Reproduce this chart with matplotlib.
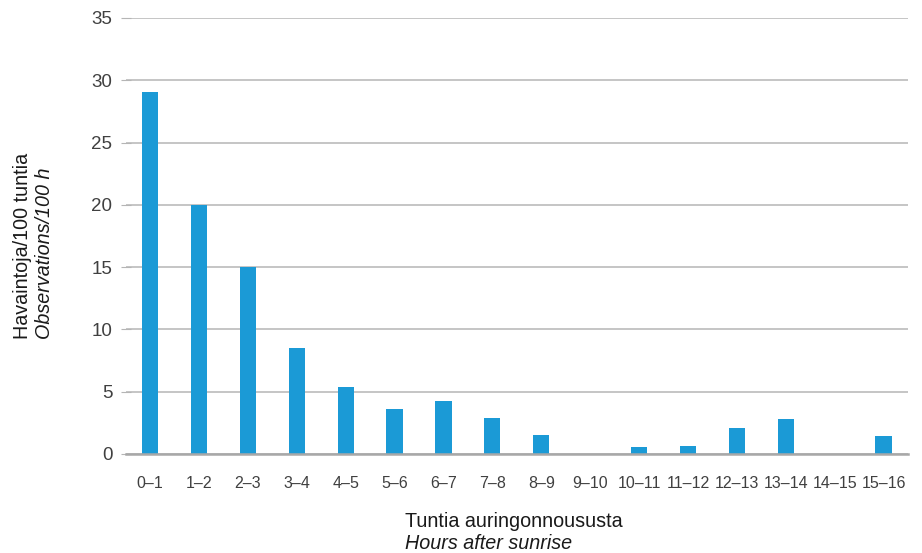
import matplotlib
matplotlib.use("Agg")
import matplotlib.pyplot as plt

plt.rcParams['font.family'] = ['Liberation Sans', 'DejaVu Sans']

categories = ["0–1", "1–2", "2–3", "3–4", "4–5", "5–6", "6–7", "7–8", "8–9",
              "9–10", "10–11", "11–12", "12–13", "13–14", "14–15", "15–16"]
values = [29.05, 20.0, 15.0, 8.5, 5.4, 3.6, 4.25, 2.9, 1.5,
          0.0, 0.55, 0.65, 2.1, 2.8, 0.0, 1.45]
yticks = [0, 5, 10, 15, 20, 25, 30, 35]

fig = plt.figure(figsize=(9.22, 5.53), dpi=100)
ax = fig.add_axes([125.6 / 922, 1 - 454 / 553, (908 - 125.6) / 922, (454 - 18) / 553])

x = list(range(len(categories)))
ax.bar(x, values, width=0.33, color="#1b9ad6", zorder=3)

ax.set_xlim(-0.5, len(categories) - 0.5)
ax.set_ylim(0, 35)
ax.set_yticks(yticks)
ax.set_xticks(x)
ax.set_xticklabels(categories)

ax.yaxis.grid(True, color="#b5b5b5", linewidth=1.1, zorder=0)
ax.set_axisbelow(True)
for s in ["top", "right", "left"]:
    ax.spines[s].set_visible(False)
ax.spines["bottom"].set_color("#a8a8a8")
ax.spines["bottom"].set_linewidth(1.8)
ax.spines["bottom"].set_zorder(4)

ax.tick_params(axis="y", direction="inout", length=7, width=0.8, color="#b5b5b5",
               labelsize=13.5, labelcolor="#404040", pad=6)
ax.tick_params(axis="x", length=0, labelsize=11.5, labelcolor="#404040", pad=16)

# axis titles (two lines, second italic)
fig.text(405 / 922, 1 - 527 / 553, "Tuntia auringonnoususta", fontsize=14.2,
         color="#1a1a1a", ha="left", va="baseline")
fig.text(405 / 922, 1 - 549 / 553, "Hours after sunrise", fontsize=14.2,
         style="italic", color="#1a1a1a", ha="left", va="baseline")

fig.text(23 / 922, 1 - 339 / 553, "Havaintoja/100 tuntia", fontsize=14.2,
         color="#1a1a1a", rotation=90, ha="center", va="bottom")
fig.text(45 / 922, 1 - 339 / 553, "Observations/100 h", fontsize=14.2,
         style="italic", color="#1a1a1a", rotation=90, ha="center", va="bottom")

fig.savefig("out.png", dpi=100)
